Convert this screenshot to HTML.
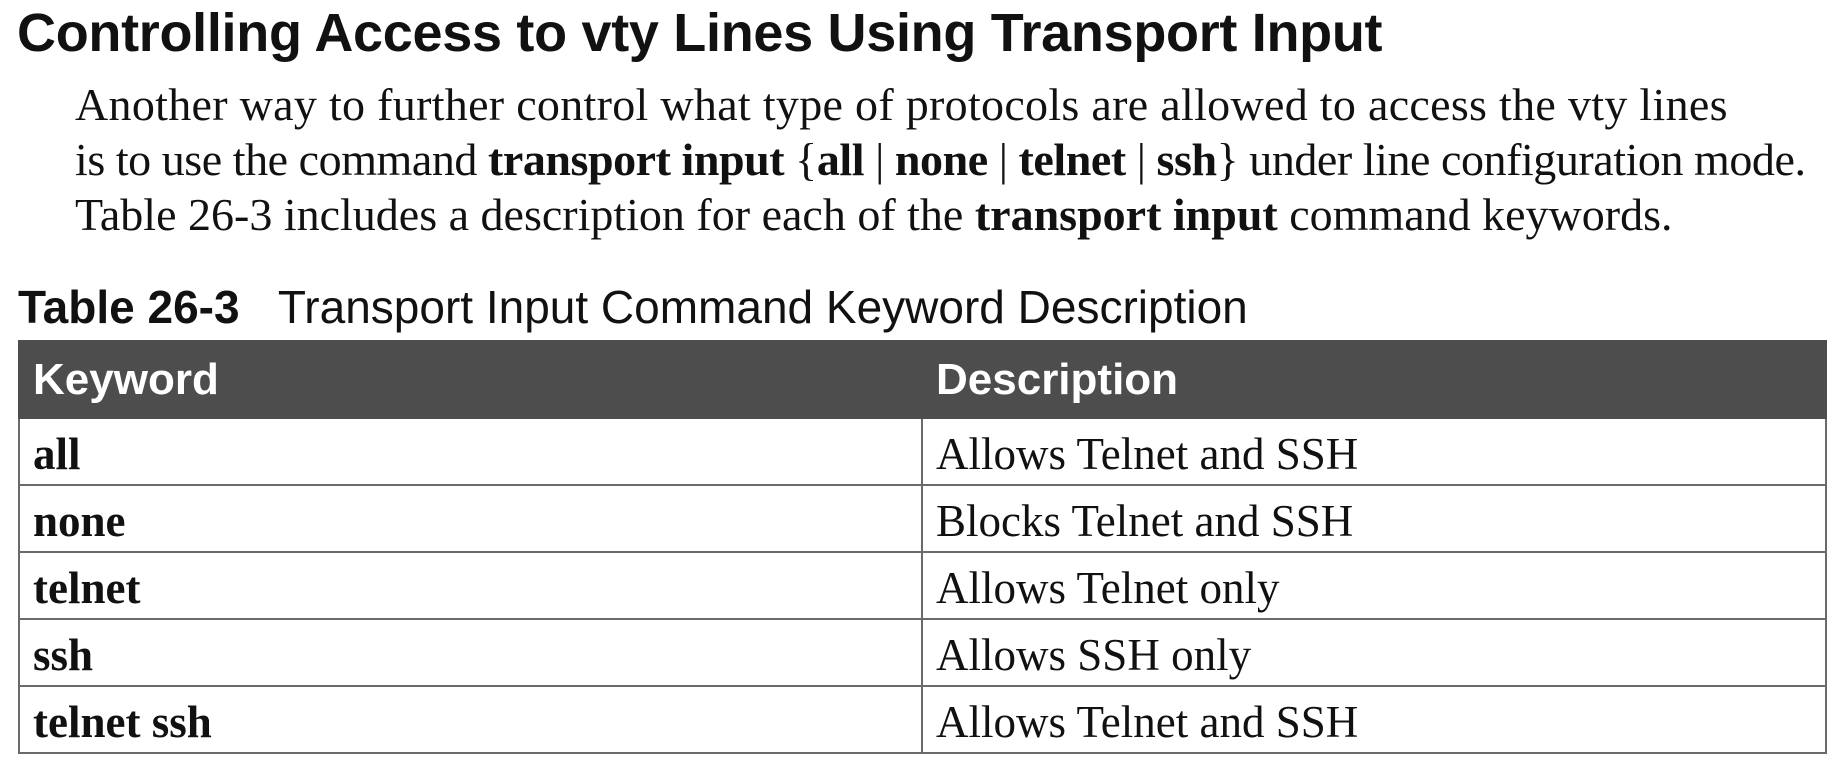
<!DOCTYPE html>
<html><head><style>
body{margin:0;width:1838px;height:768px;background:#fff;position:relative;overflow:hidden;color:#111}
h1{position:absolute;left:17px;top:2px;margin:0;font:bold 54px "Liberation Sans",sans-serif;letter-spacing:-0.3px;white-space:nowrap}
.p{position:absolute;left:75px;font:46px "Liberation Serif",serif;white-space:nowrap}
.cap{position:absolute;left:18px;top:280px;font:46px "Liberation Sans",sans-serif;white-space:nowrap}
table{position:absolute;left:18px;top:340px;width:1809px;border-collapse:collapse}
th{background:#4d4d4d;color:#fff;font:bold 44px "Liberation Sans",sans-serif;text-align:left;height:75px;padding:0 13px;border:2px solid #4d4d4d}
td{height:61px;border:2px solid #6a6a6a;padding:4px 13px 0;font:45px "Liberation Serif",serif}
td:first-child{font-weight:bold;width:875px}
</style></head><body>
<h1>Controlling Access to vty Lines Using Transport Input</h1>
<div class="p" style="top:78px;letter-spacing:0.3px">Another way to further control what type of protocols are allowed to access the vty lines</div>
<div class="p" style="top:133px;letter-spacing:-0.45px">is to use the command <b>transport input</b> {<b>all</b> | <b>none</b> | <b>telnet</b> | <b>ssh</b>} under line configuration mode.</div>
<div class="p" style="top:188px">Table 26-3 includes a description for each of the <b>transport input</b> command keywords.</div>
<div class="cap"><b>Table 26-3</b>&nbsp;&nbsp;&nbsp;Transport Input Command Keyword Description</div>
<table>
<tr><th>Keyword</th><th>Description</th></tr>
<tr><td>all</td><td>Allows Telnet and SSH</td></tr>
<tr><td>none</td><td>Blocks Telnet and SSH</td></tr>
<tr><td>telnet</td><td>Allows Telnet only</td></tr>
<tr><td>ssh</td><td>Allows SSH only</td></tr>
<tr><td>telnet ssh</td><td>Allows Telnet and SSH</td></tr>
</table>
</body></html>
